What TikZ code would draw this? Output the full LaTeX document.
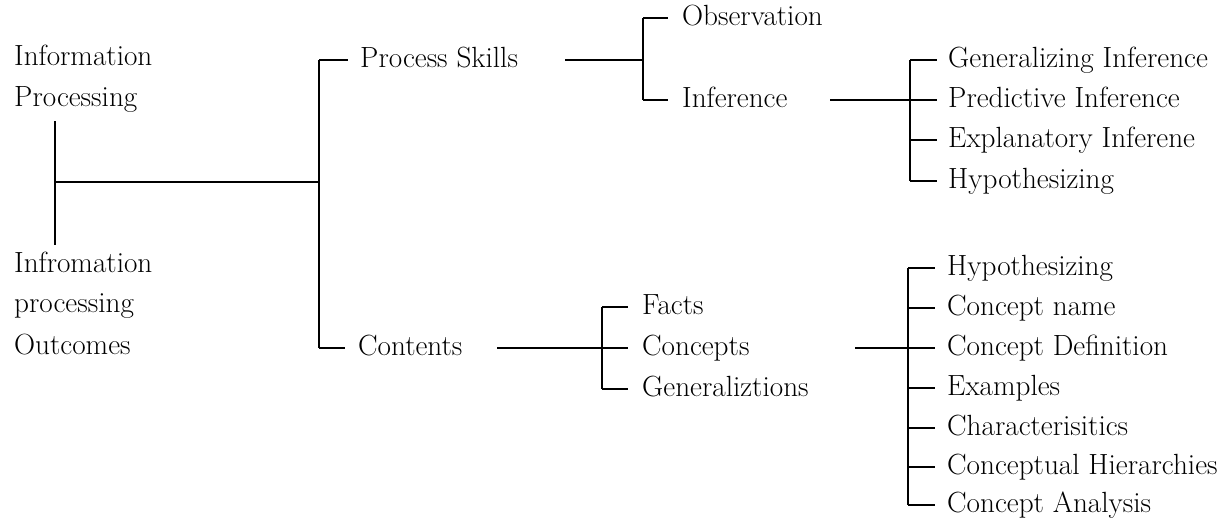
\documentclass[tikz,border=0pt]{standalone}
\begin{document}
\begin{tikzpicture}[x=1pt,y=-1pt,
  lbl/.style={anchor=west,inner sep=0pt,text height=15pt,text depth=0pt,
    font=\fontsize{29.2}{33}\selectfont},
  conn/.style={line width=1.6pt,line cap=butt}]
\useasboundingbox (0,0) rectangle (1223,530);
% left texts
\node[lbl] (i1) at (14,58) {Information};
\node[lbl] (i2) at (14,99) {Processing};
\node[lbl] (o1) at (14,265) {Infromation};
\node[lbl] (o2) at (14,305) {processing};
\node[lbl] (o3) at (14,347) {Outcomes};
% level 1
\node[lbl] (ps) at (360,60) {Process Skills};
\node[lbl] (ct) at (358,348) {Contents};
% process skills children
\node[lbl] (ob) at (682,18) {Observation};
\node[lbl] (inf) at (682,100) {Inference};
% inference children
\node[lbl] (gi) at (948,60) {Generalizing Inference};
\node[lbl] (pi) at (948,100) {Predictive Inference};
\node[lbl] (ei) at (948,140) {Explanatory Inferene};
\node[lbl] (hy) at (948,181) {Hypothesizing};
% contents children
\node[lbl] (fa) at (642,307) {Facts};
\node[lbl] (co) at (642,348) {Concepts};
\node[lbl] (ge) at (642,389) {Generaliztions};
% concepts children
\node[lbl] (c1) at (947,268) {Hypothesizing};
\node[lbl] (c2) at (947,308) {Concept name};
\node[lbl] (c3) at (947,348) {Concept Definition};
\node[lbl] (c4) at (947,388) {Examples};
\node[lbl] (c5) at (947,428) {Characterisitics};
\node[lbl] (c6) at (947,467) {Conceptual Hierarchies};
\node[lbl] (c7) at (947,505) {Concept Analysis};
% junction coordinates
\coordinate (lt) at (55,121);
\coordinate (lb) at (55,245);
\coordinate (lm) at (55,182);
\coordinate (j1) at (319,182);
\coordinate (j1t) at (319,60);
\coordinate (j1b) at (319,348);
\coordinate (psout) at (565,60);
\coordinate (j2) at (643,60);
\coordinate (j2t) at (643,18);
\coordinate (j2b) at (643,100);
\coordinate (infout) at (830,100);
\coordinate (j3) at (910,100);
\coordinate (j3t) at (910,60);
\coordinate (j3b) at (910,181);
\coordinate (ctout) at (497,348);
\coordinate (j4) at (602,348);
\coordinate (j4t) at (602,307);
\coordinate (j4b) at (602,389);
\coordinate (coout) at (855,348);
\coordinate (j5) at (908,348);
\coordinate (j5t) at (908,268);
\coordinate (j5b) at (908,505);
% connectors
\draw[conn] (lt) -- (lb);
\draw[conn] (lm) -- (j1);
\draw[conn] (j1t) -- (j1b);
\draw[conn] (j1t) -- ([xshift=-12pt]ps.west);
\draw[conn] (j1b) -- ([xshift=-13pt]ct.west);
\draw[conn] (psout) -- (j2);
\draw[conn] (j2t) -- (j2b);
\draw[conn] (j2t) -- ([xshift=-14pt]ob.west);
\draw[conn] (j2b) -- ([xshift=-14pt]inf.west);
\draw[conn] (infout) -- (j3);
\draw[conn] (j3t) -- (j3b);
\foreach \n in {gi,pi,ei,hy} \draw[conn] (j3 |- \n.west) -- ([xshift=-11pt]\n.west);
\draw[conn] (ctout) -- (j4);
\draw[conn] (j4t) -- (j4b);
\foreach \n in {fa,co,ge} \draw[conn] (j4 |- \n.west) -- ([xshift=-14pt]\n.west);
\draw[conn] (coout) -- (j5);
\draw[conn] (j5t) -- (j5b);
\foreach \n in {c1,c2,c3,c4,c5,c6,c7} \draw[conn] (j5 |- \n.west) -- ([xshift=-12pt]\n.west);
\end{tikzpicture}
\end{document}
